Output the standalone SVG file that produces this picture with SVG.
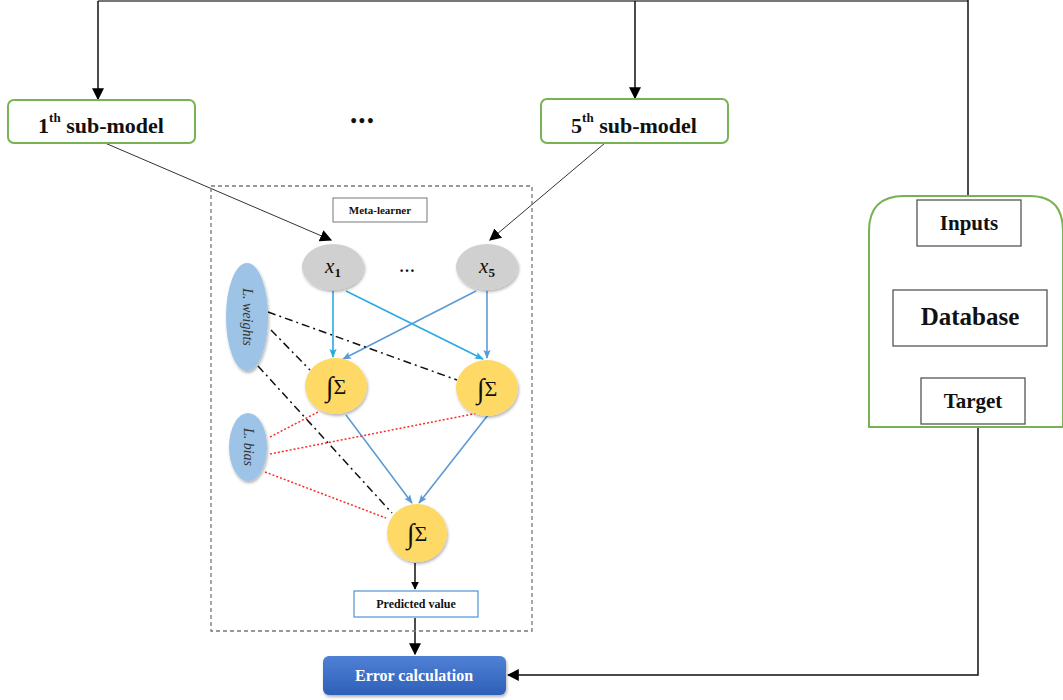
<svg xmlns="http://www.w3.org/2000/svg" width="1063" height="700" viewBox="0 0 1063 700">
<defs>
<marker id="ah" viewBox="0 0 10 10" refX="9" refY="5" markerWidth="8" markerHeight="8" markerUnits="userSpaceOnUse" orient="auto"><path d="M0,0 L10,5 L0,10 z" fill="#000"/></marker>
<marker id="ahb" viewBox="0 0 10 10" refX="9" refY="5" markerWidth="12" markerHeight="12" markerUnits="userSpaceOnUse" orient="auto"><path d="M0,0 L10,5 L0,10 z" fill="#000"/></marker>
<marker id="ahc" viewBox="0 0 10 10" refX="9" refY="5" markerWidth="9" markerHeight="9" markerUnits="userSpaceOnUse" orient="auto"><path d="M0,1 L10,5 L0,9 L2,5 z" fill="#29abe2"/></marker>
<marker id="ahs" viewBox="0 0 10 10" refX="9" refY="5" markerWidth="9" markerHeight="9" markerUnits="userSpaceOnUse" orient="auto"><path d="M0,1 L10,5 L0,9 L2,5 z" fill="#5b9bd5"/></marker>
<linearGradient id="gblue" x1="0" y1="0" x2="0" y2="1"><stop offset="0" stop-color="#4f81d6"/><stop offset="1" stop-color="#2f5fb8"/></linearGradient>
<filter id="sh" x="-20%" y="-20%" width="140%" height="150%"><feDropShadow dx="1" dy="2" stdDeviation="1.5" flood-color="#000" flood-opacity="0.3"/></filter>
</defs>
<style>
.t{font-family:"Liberation Serif",serif;font-weight:bold;fill:#111;text-anchor:middle;dominant-baseline:central}
.sub{fill:#fff;stroke:#77b255;stroke-width:2}
.blk{stroke:#111;stroke-width:1.5;fill:none}
.gray{fill:#d0d0d0;filter:url(#sh)}
.yel{fill:#ffd966;filter:url(#sh)}
.lb{fill:#9dc3e6;filter:url(#sh)}
.sig{font-family:"Liberation Serif",serif;font-size:22px;fill:#111;text-anchor:middle;dominant-baseline:central}
.dd{stroke:#111;stroke-width:1.5;stroke-dasharray:8 4 2 4;fill:none}
.rd{stroke:#ff2a2a;stroke-width:1.5;stroke-dasharray:2 2;fill:none}
.cy{stroke:#29abe2;stroke-width:1.6;fill:none}
.sb{stroke:#5b9bd5;stroke-width:1.6;fill:none}
.it{font-family:"Liberation Serif",serif;font-style:italic;fill:#333;text-anchor:middle;dominant-baseline:central}
</style>
<rect width="1063" height="700" fill="#fff"/>
<g id="connectors">
<path d="M98,1 H968" stroke="#777" stroke-width="2" fill="none"/>
<path d="M98,1 V99" class="blk" marker-end="url(#ahb)"/>
<path d="M635,1 V98" class="blk" stroke="#333" marker-end="url(#ahb)"/>
<path d="M968,0 V196" class="blk" stroke-width="2"/>
<path d="M105,143 L331,240" stroke="#333" stroke-width="1" fill="none" marker-end="url(#ahb)"/>
<path d="M605,143 L490,240" stroke="#333" stroke-width="1" fill="none" marker-end="url(#ahb)"/>
<path d="M333,291 V357" class="cy" marker-end="url(#ahc)"/>
<path d="M346,291 L483,359" class="cy" marker-end="url(#ahc)"/>
<path d="M476,291 L343,359" class="sb" marker-end="url(#ahs)"/>
<path d="M487,291 V358" class="sb" marker-end="url(#ahs)"/>
<path d="M346,415 L412,503" class="sb" marker-end="url(#ahs)"/>
<path d="M488,415 L419,503" class="sb" marker-end="url(#ahs)"/>
<path d="M268,312 L457,380" class="dd"/>
<path d="M271,330 L310,370" class="dd"/>
<path d="M258,366 L392,513" class="dd"/>
<path d="M270,437 L318,412" class="rd"/>
<path d="M270,454 L478,413" class="rd"/>
<path d="M265,472 L386,518" class="rd"/>
<path d="M415,563 V589" class="blk" marker-end="url(#ah)"/>
<path d="M415,618 V654" class="blk" marker-end="url(#ahb)"/>
<path d="M978,428 V675 H508" class="blk" stroke="#333" stroke-width="2" marker-end="url(#ahb)"/>
</g>
<g id="sub1"><rect x="8" y="100" width="187" height="43" rx="6" class="sub"/><text x="101" y="125" class="t" font-size="22">1<tspan font-size="13" dy="-8">th</tspan><tspan dy="8"> sub-model</tspan></text></g>
<g id="dots"><text x="363" y="121" class="t" font-size="18" letter-spacing="2">•••</text></g>
<g id="sub5"><rect x="541" y="99" width="187" height="44" rx="6" class="sub"/><text x="634" y="125" class="t" font-size="22">5<tspan font-size="13" dy="-8">th</tspan><tspan dy="8"> sub-model</tspan></text></g>
<g id="meta"><rect x="211" y="186" width="321" height="445" fill="none" stroke="#777" stroke-width="1.3" stroke-dasharray="4 3"/><rect x="333" y="198" width="94" height="24" fill="#fff" stroke="#777" stroke-width="1"/><text x="380" y="210" class="t" font-size="11">Meta-learner</text></g>
<g id="x1"><ellipse cx="333" cy="267" rx="31" ry="23" class="gray"/><text x="333" y="266" class="it" font-size="21"><tspan fill="#111">x</tspan><tspan font-size="13" font-style="normal" font-weight="bold" dy="6" fill="#111">1</tspan></text></g>
<g id="dots2"><text x="407" y="266" class="t" font-size="16" font-weight="normal">…</text></g>
<g id="x5"><ellipse cx="487" cy="267" rx="31" ry="23" class="gray"/><text x="487" y="266" class="it" font-size="21"><tspan fill="#111">x</tspan><tspan font-size="13" font-style="normal" font-weight="bold" dy="6" fill="#111">5</tspan></text></g>
<g id="lweights"><ellipse cx="247" cy="317" rx="21" ry="54" class="lb"/><text transform="translate(247,317) rotate(90)" class="it" font-size="14">L. weights</text></g>
<g id="lbias"><ellipse cx="248" cy="447" rx="19" ry="34" class="lb"/><text transform="translate(248,447) rotate(90)" class="it" font-size="14">L. bias</text></g>
<g id="s1"><ellipse cx="336" cy="386" rx="31" ry="28" class="yel"/><text x="336" y="386" class="sig"><tspan font-size="28">∫</tspan>Σ</text></g>
<g id="s2"><ellipse cx="487" cy="388" rx="31" ry="28" class="yel"/><text x="487" y="388" class="sig"><tspan font-size="28">∫</tspan>Σ</text></g>
<g id="s3"><ellipse cx="417" cy="533" rx="30" ry="29" class="yel"/><text x="417" y="533" class="sig"><tspan font-size="28">∫</tspan>Σ</text></g>
<g id="pred"><rect x="354" y="591" width="124" height="26" fill="#fff" stroke="#5b9bd5" stroke-width="1.3"/><text x="416" y="604" class="t" font-size="12">Predicted value</text></g>
<g id="error"><rect x="323" y="656" width="183" height="39" rx="6" fill="url(#gblue)" filter="url(#sh)"/><text x="414" y="675" class="t" font-size="16" style="fill:#fff">Error calculation</text></g>
<g id="db"><path d="M869,427 V231 Q869,196 904,196 H1030 Q1063,196 1063,231 V427 Z" fill="#fff" stroke="#77b255" stroke-width="2"/>
<rect x="917" y="200" width="104" height="46" fill="#fff" stroke="#555" stroke-width="1.3"/><text x="969" y="223" class="t" font-size="21">Inputs</text>
<rect x="893" y="290" width="154" height="56" fill="#fff" stroke="#555" stroke-width="1.3"/><text x="970" y="316" class="t" font-size="25">Database</text>
<rect x="921" y="378" width="104" height="46" fill="#fff" stroke="#555" stroke-width="1.3"/><text x="973" y="401" class="t" font-size="21">Target</text></g>
</svg>
